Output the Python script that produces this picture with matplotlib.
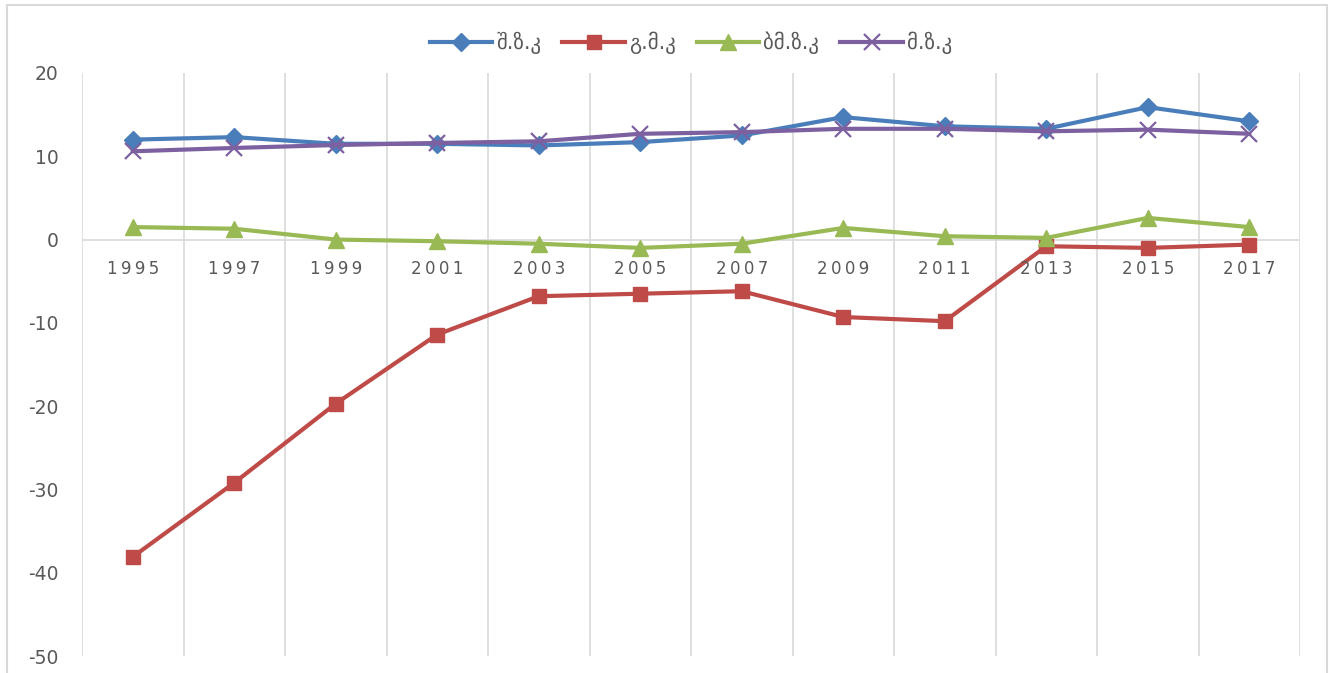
import matplotlib
matplotlib.use('Agg')
import numpy as np
import matplotlib.pyplot as plt
from matplotlib.patches import Rectangle

W, H = 1334, 673
BLUE = '#4A7EBB'
RED = '#BE4B48'
GREEN = '#98B954'
PURPLE = '#7D60A0'
GRID = '#D9D9D9'
TXT = '#595959'

years = ['1995', '1997', '1999', '2001', '2003', '2005',
         '2007', '2009', '2011', '2013', '2015', '2017']
s_shzk = [12.0, 12.3, 11.5, 11.5, 11.3, 11.7, 12.5, 14.7, 13.6, 13.3, 15.9, 14.2]
s_gmk = [-38.1, -29.2, -19.7, -11.4, -6.8, -6.5, -6.2, -9.3, -9.8, -0.8, -1.0, -0.6]
s_bmzk = [1.5, 1.3, 0.0, -0.2, -0.5, -1.0, -0.5, 1.4, 0.4, 0.2, 2.6, 1.5]
s_mzk = [10.6, 11.0, 11.35, 11.6, 11.8, 12.7, 12.9, 13.3, 13.3, 13.0, 13.2, 12.7]
labels = ['შ.ზ.კ', 'გ.მ.კ', 'ბმ.ზ.კ', 'მ.ზ.კ']

plt.rcParams['font.family'] = ['DejaVu Sans']
plt.rcParams['axes.unicode_minus'] = False

fig = plt.figure(figsize=(W / 100, H / 100), dpi=100, facecolor='white')
ax = fig.add_axes([82 / W, 1 - 656 / H, (1300 - 82) / W, (656 - 73) / H])

# outer chart border
fig.patches.append(Rectangle((7 / W, -0.05), (1327 - 7) / W, 1.05 - 5 / H,
                             transform=fig.transFigure, fill=False,
                             edgecolor=GRID, linewidth=1.5))

x = np.arange(len(years))
ax.set_xlim(-0.5, len(years) - 0.5)
ax.set_ylim(-50, 20)

# vertical gridlines between categories
for gx in np.arange(-0.5, len(years), 1.0):
    ax.axvline(gx, color=GRID, linewidth=1.2, zorder=0)
ax.axhline(0, color=GRID, linewidth=1.2, zorder=1)

lw = 3
ax.plot(x, s_shzk, color=BLUE, lw=lw, marker='D', ms=9, label=labels[0], zorder=4)
ax.plot(x, s_gmk, color=RED, lw=lw, marker='s', ms=10, label=labels[1], zorder=3)
ax.plot(x, s_bmzk, color=GREEN, lw=lw, marker='^', ms=11, label=labels[2], zorder=3)
ax.plot(x, s_mzk, color=PURPLE, lw=lw, marker='x', ms=11, mew=1.6,
        label=labels[3], zorder=5)

for s in ax.spines.values():
    s.set_visible(False)
ax.set_xticks([])
ax.set_yticks(np.arange(-50, 21, 10))
ax.tick_params(axis='y', length=0, labelsize=13.5, labelcolor=TXT, pad=17)

# category labels just below the zero line, letter-spaced
for i, yr in enumerate(years):
    ax.text(i, -2.5, '\u2009'.join(yr), ha='center', va='top',
            fontsize=12, color=TXT)

ax.legend(loc='lower center', bbox_to_anchor=(0.5, 1.0), ncol=4,
          frameon=False, fontsize=15, labelcolor=TXT, handlelength=3.0,
          columnspacing=1.0, handletextpad=0.2)

fig.savefig('out.png', dpi=100, facecolor='white')
